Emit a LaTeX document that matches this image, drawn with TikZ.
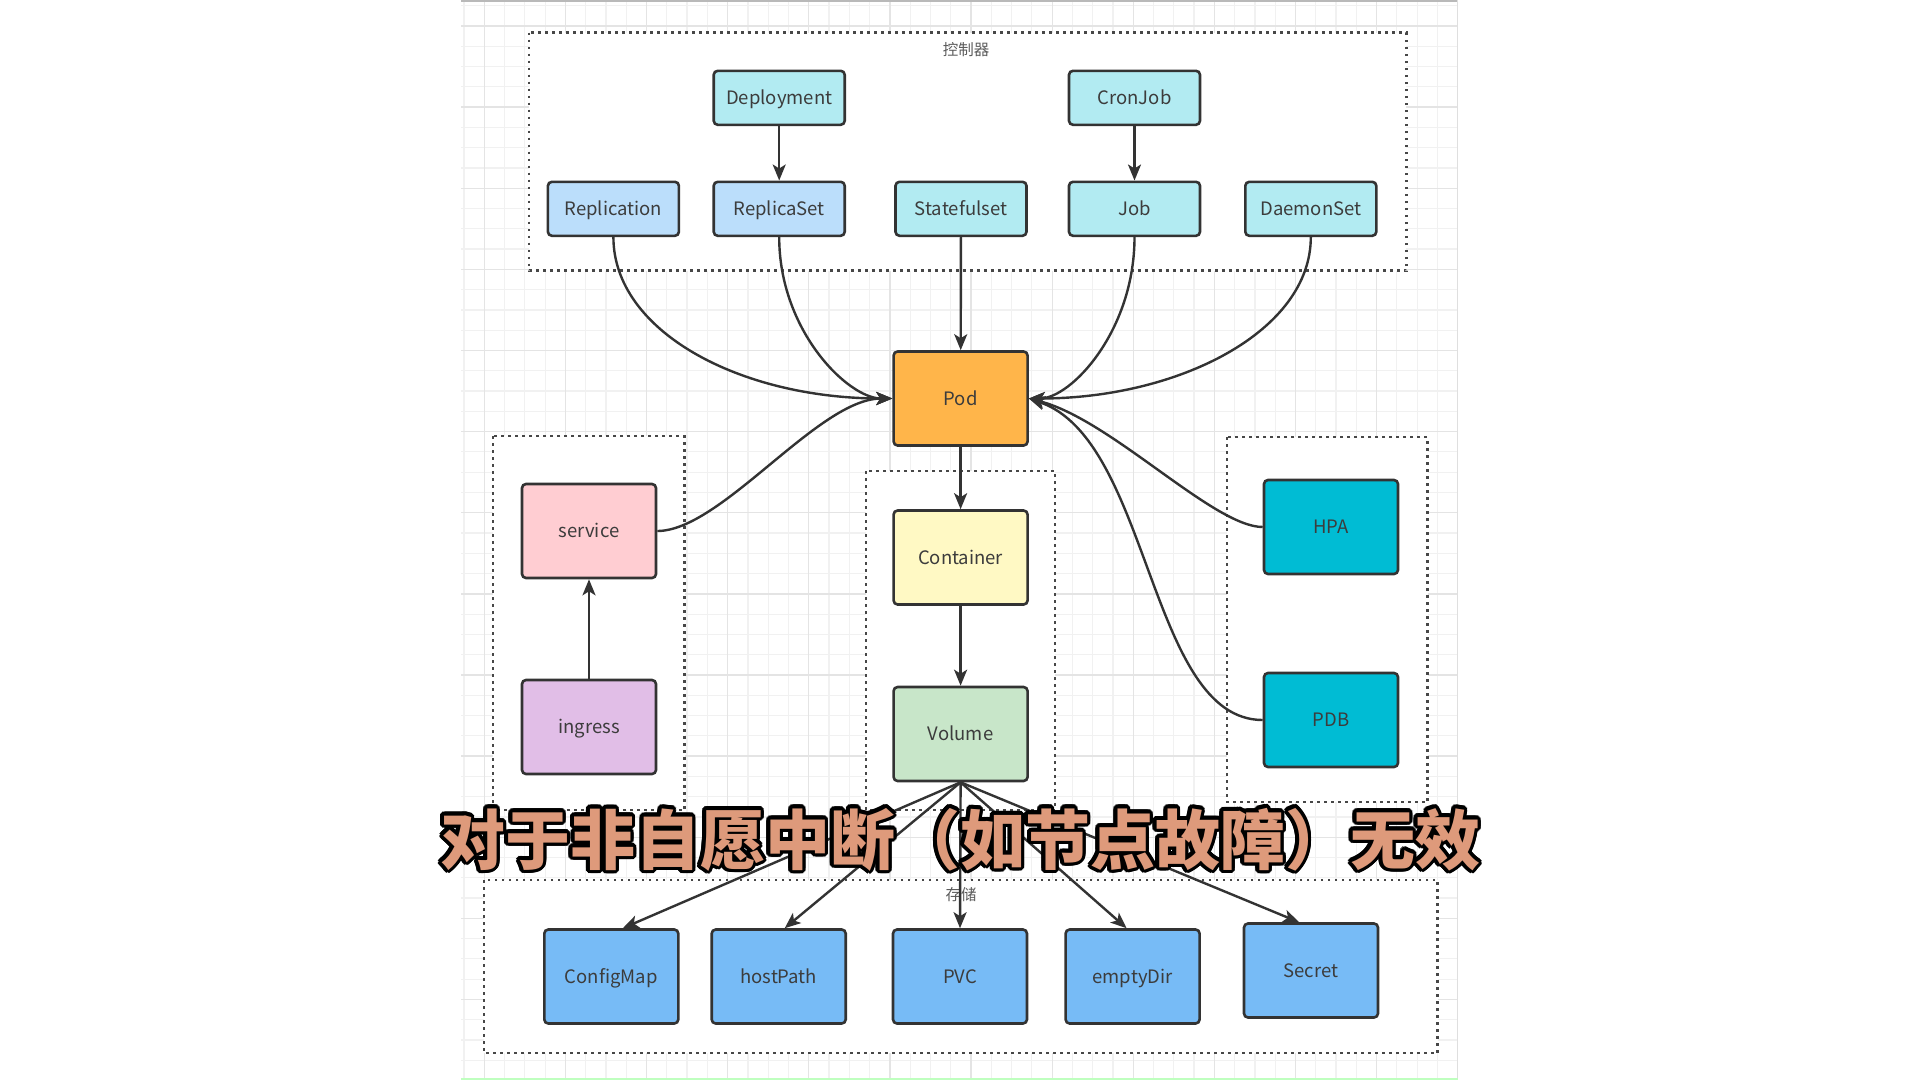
\documentclass[tikz,border=0pt]{standalone}
\usepackage{fontspec}
\setmainfont{Noto Sans CJK SC}
\newfontfamily\cjk{Noto Sans CJK SC}
\usetikzlibrary{arrows.meta}

\definecolor{ink}{HTML}{333333}
\definecolor{txt}{HTML}{3C3C3C}
\definecolor{cyanlt}{HTML}{B2EBF2}
\definecolor{bluelt}{HTML}{BBDEFB}
\definecolor{podc}{HTML}{FFB54A}
\definecolor{svcc}{HTML}{FFCDD2}
\definecolor{ingc}{HTML}{E1BEE7}
\definecolor{ctrc}{HTML}{FFF9C4}
\definecolor{volc}{HTML}{C8E6C9}
\definecolor{hpac}{HTML}{00BCD4}
\definecolor{storc}{HTML}{77BBF6}
\definecolor{subfill}{HTML}{DE9A7B}
\definecolor{gridminor}{HTML}{F1F1F1}
\definecolor{gridmajor}{HTML}{E4E4E4}

\tikzset{
  box/.style={draw=ink, line width=2.6pt, rounded corners=4pt, text=txt,
    font=\fontsize{18.5}{18.5}\selectfont, inner sep=0pt, align=center,
    text height=13.3pt, text depth=0pt},
  smallbox/.style={box, minimum width=131pt, minimum height=54pt},
  bigbox/.style={box, minimum width=134pt, minimum height=94pt},
  frame/.style={draw=ink!90, fill=white, line width=2.6pt, dash pattern=on 2.6pt off 4.4pt},
  conn/.style={draw=ink, line width=2.4pt, -{Stealth[length=16pt,width=13pt,inset=4pt]}},
  framelabel/.style={text=ink!80, font=\fontsize{15.5}{15.5}\selectfont, inner sep=0pt},
  subtitle/.style={font=\cjk\bfseries\fontsize{65}{65}\selectfont, inner sep=0pt, anchor=base}
}

\newcommand\subtext{对于非自愿中断（如节点故障）无效}

\begin{document}
\begin{tikzpicture}[x=1pt, y=-1pt]
  % page
  \fill[white] (0,0) rectangle (1920,1080);
  \useasboundingbox (0,0) rectangle (1920,1080);

  % canvas grid
  \foreach \i in {0,...,48} {
    \pgfmathsetmacro\gx{464.0+20.28*\i}
    \draw[gridminor, line width=1.2pt] (\gx,0) -- (\gx,1078);
  }
  \foreach \j in {0,...,52} {
    \pgfmathsetmacro\gy{5.7+20.28*\j}
    \draw[gridminor, line width=1.2pt] (461,\gy) -- (1457,\gy);
  }
  \foreach \i in {0,...,11} {
    \pgfmathsetmacro\gx{484.3+81.12*\i}
    \draw[gridmajor, line width=1.3pt] (\gx,0) -- (\gx,1078);
  }
  \foreach \j in {0,...,12} {
    \pgfmathsetmacro\gy{26+81.12*\j}
    \draw[gridmajor, line width=1.3pt] (461,\gy) -- (1457,\gy);
  }
  \draw[gray!55, line width=2pt] (461,1) -- (1458,1);
  \draw[gray!25, line width=1.5pt] (1457.5,0) -- (1457.5,1078);
  \draw[green!25, line width=2pt] (461,1079) -- (1458,1079);

  % group frames
  \draw[frame] (528.9,32.7) rectangle (1406.4,270.7);
  \draw[frame] (493,436) rectangle (684.5,810);
  \draw[frame] (866,471) rectangle (1055,810);
  \draw[frame] (1227,437) rectangle (1427.5,802);
  \draw[frame] (484,880) rectangle (1437.6,1053);
  \node[framelabel] (ctllabel) at (966,50) {控制器};
  \node[framelabel] (storlabel) at (961,895) {存储};

  % controllers
  \node[smallbox, fill=cyanlt] (dep)  at (779.2,97.8)  {Deployment};
  \node[smallbox, fill=cyanlt] (cron) at (1134.5,97.8) {CronJob};
  \node[smallbox, fill=bluelt] (rc)   at (613.4,208.8) {Replication};
  \node[smallbox, fill=bluelt] (rs)   at (779.2,208.8) {ReplicaSet};
  \node[smallbox, fill=cyanlt] (sts)  at (961,208.8)   {Statefulset};
  \node[smallbox, fill=cyanlt] (job)  at (1134.5,208.8) {Job};
  \node[smallbox, fill=cyanlt] (ds)   at (1310.8,208.8) {DaemonSet};

  % workload
  \node[bigbox, fill=podc] (pod) at (960.6,398.5) {Pod};
  \node[bigbox, fill=svcc] (svc) at (589,531)     {service};
  \node[bigbox, fill=ingc] (ing) at (589,727)     {ingress};
  \node[bigbox, fill=ctrc] (ctr) at (960.6,557.5) {Container};
  \node[bigbox, fill=volc] (vol) at (960.6,734)   {Volume};
  \node[bigbox, fill=hpac] (hpa) at (1331,527)    {HPA};
  \node[bigbox, fill=hpac] (pdb) at (1331,720)    {PDB};

  % storage
  \node[bigbox, fill=storc] (cm)  at (611.3,976.5)  {ConfigMap};
  \node[bigbox, fill=storc] (hp)  at (778.7,976.5)  {hostPath};
  \node[bigbox, fill=storc] (pvc) at (960,976.5)    {PVC};
  \node[bigbox, fill=storc] (ed)  at (1132.6,976.5) {emptyDir};
  \node[bigbox, fill=storc] (sec) at (1311,970.5)   {Secret};

  % connectors
  \draw[conn] (dep) -- (rs);
  \draw[conn] (cron) -- (job);
  \draw[conn] (sts) -- (pod);
  \draw[conn] (rc.south) .. controls +(0,94) and +(-153,0) .. (pod.west);
  \draw[conn] (rs.south) .. controls +(0,94) and +(-44,0) .. (pod.west);
  \draw[conn] (job.south) .. controls +(0,94) and +(42,0) .. (pod.east);
  \draw[conn] (ds.south) .. controls +(0,94) and +(150,0) .. (pod.east);
  \draw[conn] (svc.east) .. controls +(64,0) and +(-74,0) .. (pod.west);
  \draw[conn] (hpa.west) .. controls +(-49,0) and +(82,21) .. (pod.east);
  \draw[conn] (pdb.west) .. controls +(-114,0) and +(122,41.5) .. (pod.east);
  \draw[conn] (pod) -- (ctr);
  \draw[conn] (ctr) -- (vol);
  \draw[conn] (ing) -- (svc);
  \draw[conn] (vol.south) -- ([xshift=11.5pt]cm.north);
  \draw[conn] (vol.south) -- ([xshift=6pt]hp.north);
  \draw[conn] (vol.south) -- (pvc.north);
  \draw[conn] (vol.south) -- ([xshift=-6pt]ed.north);
  \draw[conn] (vol.south) -- ([xshift=-12pt]sec.north);

  % caption with dark outline
  \coordinate (sub) at (960,864);
  \foreach \a in {0,22.5,...,337.5} {
    \path (sub) ++(\a:3.8) node[subtitle, text=black] {\subtext};
  }
  \node[subtitle, text=subfill] (caption) at (sub) {\subtext};
\end{tikzpicture}
\end{document}
